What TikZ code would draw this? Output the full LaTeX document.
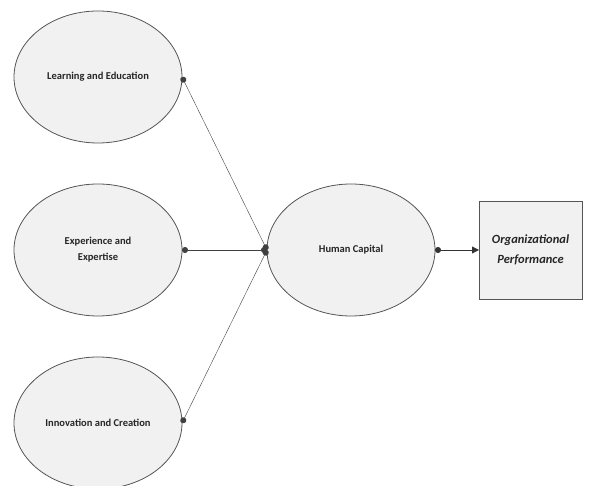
\documentclass[tikz,border=0pt]{standalone}
\usepackage{fontspec}
\setmainfont{Carlito}
\usepackage{xcolor}
\usetikzlibrary{arrows.meta,positioning,shapes.geometric}
\definecolor{lvfill}{HTML}{F1F1F1}
\definecolor{lvline}{HTML}{555555}
\definecolor{lvtext}{HTML}{262626}

\begin{document}
\begin{tikzpicture}[
x=1pt, y=1pt,
node distance=41pt and 85pt,
latent/.style={draw=lvline, thick, ellipse, fill=lvfill, minimum width=168pt, minimum height=132pt, inner sep=0pt, outer sep=0pt, align=center, text=lvtext, font=\bfseries\fontsize{10.5}{16}\selectfont},
outcome/.style={draw=lvline, thick, rectangle, fill=lvfill, minimum width=103pt, minimum height=98pt, inner sep=0pt, outer sep=0pt, align=center, text=lvtext, font=\bfseries\itshape\fontsize{12.5}{20}\selectfont},
path/.style={draw=black!75, {Circle[length=6pt]}-{Circle[length=6pt]}},
arrow/.style={draw=black!80, thick, {Circle[length=6pt]}-{Triangle[length=7pt,width=7pt]}}
]
\useasboundingbox (0,0) rectangle (589,486);

\node[latent] (learn) at (98,409) {Learning and Education};
\node[latent, below=of learn] (exper) {Experience and\\Expertise};
\node[latent, below=of exper] (innov) {Innovation and Creation};
\node[latent, right=of exper] (hc) {Human Capital};
\node[outcome, right=44pt of hc] (perf) {Organizational\\Performance};

\draw[path] (learn.east) -- (hc.west);
\draw[path, thick] (exper.east) -- (hc.west);
\draw[path] (innov.east) -- (hc.west);
\draw[arrow] (hc.east) -- (perf.west);
\end{tikzpicture}
\end{document}
